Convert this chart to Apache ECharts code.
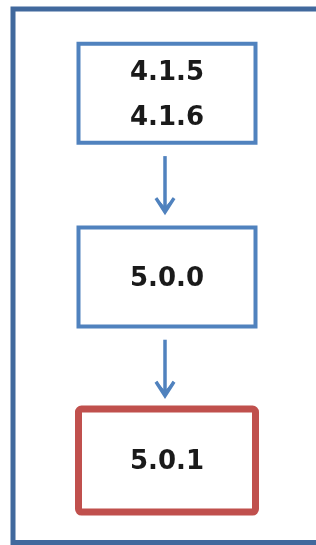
<!DOCTYPE html>
<html>
<head>
<meta charset="utf-8">
<script src="https://cdn.jsdelivr.net/npm/echarts@6/dist/echarts.min.js"></script>
<style>
  html, body { margin: 0; padding: 0; background: #fff; }
  #main { width: 316px; height: 545px; }
</style>
</head>
<body>
<div id="main"></div>
<script>
(function() {

    // 版本升级路径
    var steps = ['4.1.5\n4.1.6', '5.0.0', '5.0.1'];
    var stepIndex = [0, 1, 2];
    // 当前版本（红框）
    var currentStep = 2;

    var blue = '#5082be';
    var red = '#c0504d';

    var myChart = echarts.init(document.getElementById('main'));

    function boxItem(params, api) {
        var i = api.value(0);
        var c = api.coord([0, i]);
        var isCurrent = i === currentStep;
        var w = 177, h = isCurrent ? 103 : 99;
        var children = [{
            type: 'rect',
            shape: { x: c[0] - w / 2, y: c[1] - h / 2, width: w, height: h, r: isCurrent ? 3 : 0 },
            style: { fill: '#fff', stroke: isCurrent ? red : blue, lineWidth: isCurrent ? 7 : 4 }
        }, {
            type: 'text',
            style: {
                text: steps[i],
                x: c[0],
                y: c[1] + 2,
                align: 'center',
                verticalAlign: 'middle',
                font: 'bold 26px "DejaVu Sans"',
                lineHeight: 45,
                fill: '#1a1a1a'
            }
        }];
        return { type: 'group', children: children };
    }

    function arrowItem(params, api) {
        var i = api.value(0);
        if (i >= steps.length - 1) {
            return null;
        }
        var a = api.coord([0, i]);
        var b = api.coord([0, i + 1]);
        var mid = (a[1] + b[1]) / 2;
        var top = mid - 29, tip = mid + 29;
        var x = a[0] - 2;
        return {
            type: 'group',
            children: [{
                type: 'line',
                shape: { x1: x, y1: top, x2: x, y2: tip - 3 },
                style: { stroke: blue, lineWidth: 3.5 }
            }, {
                type: 'polygon',
                shape: { points: [[x - 9, tip - 17], [x, tip - 7], [x + 9, tip - 17], [x, tip]] },
                style: { fill: blue }
            }, {
                type: 'polyline',
                shape: { points: [[x - 9, tip - 16], [x, tip - 2], [x + 9, tip - 16]] },
                style: { stroke: blue, lineWidth: 3.5, fill: null }
            }]
        };
    }

    var option = {
        animation: false,
        graphic: [{
            type: 'rect',
            shape: { x: 13, y: 9, width: 340, height: 533.5 },
            style: { fill: null, stroke: '#41699d', lineWidth: 5 },
            z: 0
        }],
        grid: { left: 18, right: 0, top: 0, bottom: 0 },
        xAxis: { type: 'category', data: ['flow'], show: false },
        yAxis: { type: 'value', min: -0.508, max: 2.46, inverse: true, show: false },
        series: [{
            type: 'custom',
            renderItem: arrowItem,
            data: stepIndex.map(function(v) { return [v]; }),
            encode: { y: 0 },
            clip: false,
            z: 1
        }, {
            type: 'custom',
            renderItem: boxItem,
            data: stepIndex.map(function(v) { return [v]; }),
            encode: { y: 0 },
            clip: false,
            z: 2
        }]
    };
    myChart.setOption(option);

})();
</script>
</body>
</html>
